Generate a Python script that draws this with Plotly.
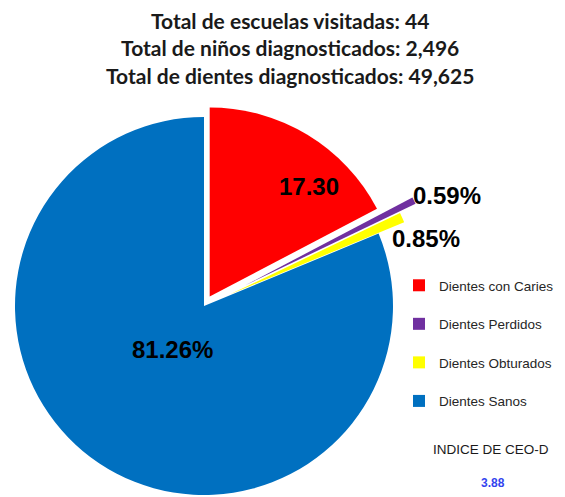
import math
import plotly.graph_objects as go

# ---- data ----
labels = ["Dientes con Caries", "Dientes Perdidos", "Dientes Obturados", "Dientes Sanos"]
values = [17.30, 0.59, 0.85, 81.26]
slice_text = ["17.30", "0.59%", "0.85%", "81.26%"]
colors = ["#FF0000", "#7030A0", "#FFFF00", "#0070C0"]

title_lines = [
    "Total de escuelas visitadas: 44",
    "Total de niños diagnosticados: 2,496",
    "Total de dientes diagnosticados: 49,625",
]
indice_label = "INDICE DE CEO-D"
indice_value = "3.88"

# ---- layout settings (pixels) ----
W, H = 565, 497
CX, CY, R = 204, 306, 189          # pie centre and radius
pull_px = [11, 46, 28, 0]          # explode distance of each slice
label_px = [(309, 186), (447, 196), (426, 239), (172, 349)]  # label centres
TRANSPARENT = "rgba(0,0,0,0)"


def domain(cx, cy, r):
    return dict(x=[(cx - r) / W, (cx + r) / W],
                y=[1 - (cy + r) / H, 1 - (cy - r) / H])


fig = go.Figure()

# legend-only pies (tiny, hidden under the main pie)
for i, lab in enumerate(labels):
    fig.add_trace(go.Pie(
        labels=[lab], values=[values[i]],
        marker=dict(colors=[colors[i]], line=dict(width=0)),
        textinfo="none", hoverinfo="skip", sort=False,
        legendgroup=f"g{i}", showlegend=True,
        domain=domain(120, 420, 2),
    ))

# one pie trace per slice so every slice can be exploded independently
total = sum(values)
cum = 0.0
for i in range(len(values)):
    mid = (cum + values[i] / 2) / total * 2 * math.pi
    cum += values[i]
    dx = pull_px[i] * math.sin(mid)
    dy = -pull_px[i] * math.cos(mid)
    cols = [colors[j] if j == i else TRANSPARENT for j in range(len(values))]
    fig.add_trace(go.Pie(
        labels=labels, values=values, sort=False, direction="clockwise",
        rotation=0,
        marker=dict(colors=cols, line=dict(width=0)),
        textinfo="none",
        hoverinfo="label+percent",
        showlegend=False,
        domain=domain(CX + dx, CY + dy, R),
    ))

# slice value labels
for i, t in enumerate(slice_text):
    lx, ly = label_px[i]
    fig.add_annotation(
        text=f"<b>{t}</b>", xref="paper", yref="paper",
        x=lx / W, y=1 - ly / H, xanchor="center", yanchor="middle", showarrow=False,
        font=dict(family="Liberation Sans, Arial", size=24, color="#000000"),
    )

fig.add_annotation(
    text="<br>".join(title_lines), xref="paper", yref="paper",
    x=290 / W, y=1 - 6 / H, xanchor="center", yanchor="top", showarrow=False,
    align="center",
    font=dict(family="Lato, Noto Sans", size=21, color="#1a1a1a", weight="bold"),
)
fig.add_annotation(
    text=indice_label, xref="paper", yref="paper", x=491 / W, y=1 - 449 / H,
    xanchor="center", yanchor="middle",
    showarrow=False, font=dict(family="Liberation Sans, Arial", size=13.5, color="#1a1a1a"),
)
fig.add_annotation(
    text=f"<b>{indice_value}</b>", xref="paper", yref="paper", x=493 / W, y=1 - 483 / H,
    xanchor="center", yanchor="middle",
    showarrow=False, font=dict(family="Liberation Sans, Arial", size=12, color="#3344EE"),
)

fig.update_layout(
    width=W, height=H,
    margin=dict(l=0, r=0, t=0, b=0),
    paper_bgcolor="white", plot_bgcolor="white",
    legend=dict(x=399 / W, y=1 - 270 / H, xanchor="left", yanchor="top",
                font=dict(family="Liberation Sans, Arial", size=13.5, color="#262626"),
                tracegroupgap=18, itemwidth=30, bgcolor="rgba(0,0,0,0)"),
)

fig.write_html("out.html", config={"displayModeBar": False},
               post_script="document.body.style.margin='0px';")
